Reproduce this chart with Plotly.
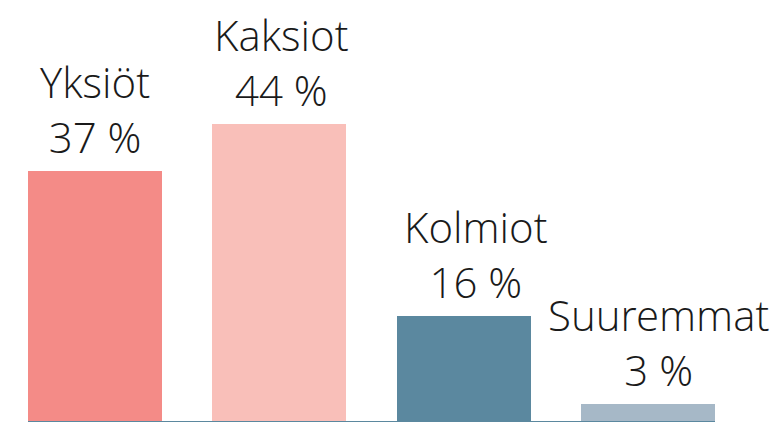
import plotly.graph_objects as go

categories = ["Yksiöt", "Kaksiot", "Kolmiot", "Suuremmat"]
values = [37.0, 44.0, 15.6, 2.5]
pct_labels = ["37 %", "44 %", "16 %", "3 %"]
colors = ["#F48B87", "#F9BFB9", "#5B889F", "#A6B8C7"]

xs = list(range(len(categories)))
bar_w = 0.727

fig = go.Figure()
fig.add_trace(go.Bar(
    x=xs, y=values, width=bar_w,
    marker=dict(color=colors, line=dict(width=0)),
    hoverinfo="skip",
))

font = dict(family="Open Sans Light, Open Sans", size=42, color="#1a1a1a", weight=300)
label_nudge = [0, 2, 12, 10]  # horizontal label nudges (px), style only
annotations = []
for x, v, name, pct, dx in zip(xs, values, categories, pct_labels, label_nudge):
    annotations.append(dict(x=x, y=v, text=f"{name}<br>{pct}", showarrow=False,
                            xanchor="center", align="center",
                            yanchor="bottom", yshift=4, xshift=dx, font=font))

fig.update_layout(
    width=780, height=422,
    margin=dict(l=28, r=65, t=8, b=1),
    paper_bgcolor="white", plot_bgcolor="white",
    showlegend=False,
    bargap=0,
    xaxis=dict(range=[-bar_w / 2, len(categories) - 1 + bar_w / 2], showgrid=False,
               zeroline=False, showticklabels=False, ticks="",
               showline=True, linecolor="#5B889F", linewidth=2),
    yaxis=dict(range=[0, 61.1], showgrid=False, zeroline=False, showticklabels=False,
               ticks="", showline=False),
    annotations=annotations,
)

fig.write_html(
    "out.html",
    config={"displayModeBar": False, "staticPlot": True},
    post_script="document.body.style.margin='0px';document.body.style.overflow='hidden';",
)
